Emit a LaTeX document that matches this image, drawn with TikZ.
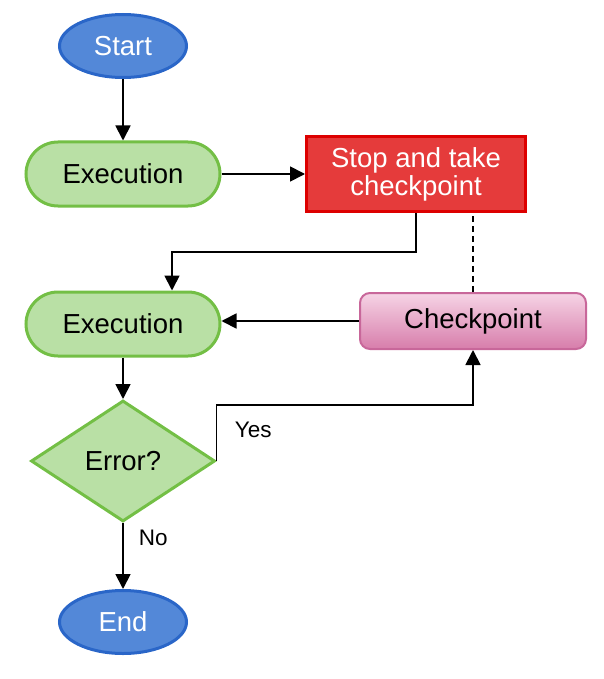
\documentclass[tikz,border=0pt]{standalone}
\usepackage{fontspec}
\setmainfont{Liberation Sans}
\usepackage{tikz}
\usetikzlibrary{arrows.meta,shapes.geometric}

\definecolor{termfill}{HTML}{5388D8}
\definecolor{termline}{HTML}{2A66C8}
\definecolor{procfill}{HTML}{B9E0A5}
\definecolor{procline}{HTML}{73BF45}
\definecolor{stopfill}{HTML}{E53B3B}
\definecolor{stopline}{HTML}{DD0000}
\definecolor{chktop}{HTML}{F6D4E5}
\definecolor{chkbot}{HTML}{D77DAB}
\definecolor{chkline}{HTML}{C8679A}

\begin{document}
\begin{tikzpicture}[x=1pt,y=-1pt,->,>={Triangle[length=15pt,width=15pt]},line width=1.8pt,
                    terminal/.style={ellipse,draw=termline,fill=termfill,line width=3pt,
                      minimum width=127pt,minimum height=63pt,inner sep=0pt,text=white,
                      font=\fontsize{27.5}{28}\selectfont},
                    process/.style={rectangle,rounded corners=32pt,draw=procline,fill=procfill,
                      line width=3pt,minimum width=194pt,minimum height=64pt,inner sep=0pt,
                      font=\fontsize{27.5}{28}\selectfont},
                    decision/.style={diamond,aspect=1.5,draw=procline,fill=procfill,line width=3pt,
                      minimum width=184pt,minimum height=121pt,inner sep=0pt,
                      font=\fontsize{27.5}{28}\selectfont},
                    stopbox/.style={rectangle,draw=stopline,fill=stopfill,line width=3pt,
                      minimum width=219pt,minimum height=75pt,inner sep=0pt,text=white,align=center,
                      font=\fontsize{27.5}{28}\selectfont},
                    chkbox/.style={rectangle,rounded corners=10pt,draw=chkline,top color=chktop,
                      bottom color=chkbot,line width=2pt,minimum width=226pt,minimum height=56pt,
                      inner sep=0pt,font=\fontsize{27.5}{28}\selectfont},
                    answer/.style={font=\fontsize{22.5}{24}\selectfont,anchor=west,inner sep=0pt}]
  \useasboundingbox (0,0) rectangle (604,679);
  \node[terminal] (start) at (123,46) {Start};
  \node[process] (exec1) at (123,174) {Execution};
  \node[stopbox] (stop) at (416,174) {Stop and take\\checkpoint};
  \node[process] (exec2) at (123,324) {Execution};
  \node[chkbox] (chk) at (473,321) {Checkpoint};
  \node[decision] (dec) at (123,461) {Error?};
  \node[terminal] (end) at (123,622) {End};

  \draw (start) -- (exec1);
  \draw (exec1.east) -- (exec1.east -| stop.west);
  \draw (stop.south) -- ++(0,39) -| ([xshift=49pt]exec2.north);
  \draw[-,dash pattern=on 6pt off 4pt] (chk.north) -- (chk.north |- stop.south);
  \draw (chk.west) -- (chk.west -| exec2.east);
  \draw (exec2) -- (dec);
  \draw (dec.east) -- ++(0,-56) -| (chk.south);
  \draw (dec) -- (end);

  \node[answer] (yes) at (234,430) {Yes};
  \node[answer] (no) at (138,538) {No};
\end{tikzpicture}
\end{document}
